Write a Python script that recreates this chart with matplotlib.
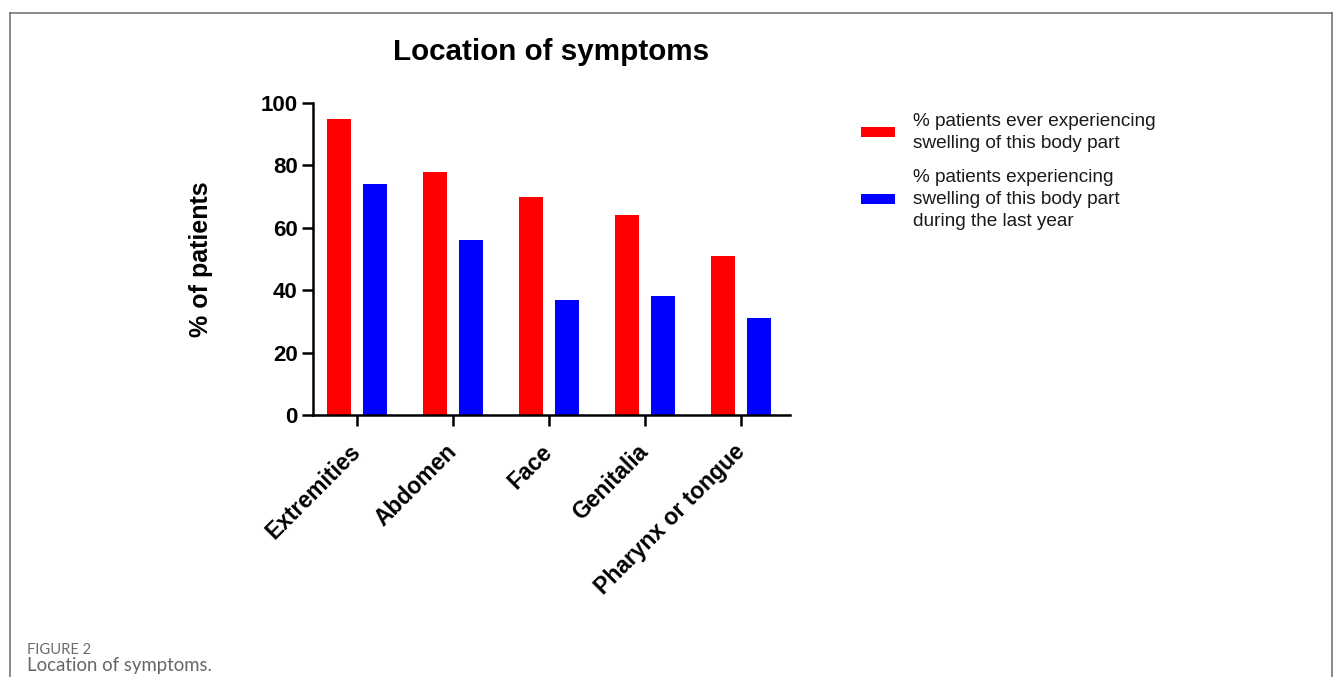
import matplotlib
matplotlib.use("Agg")
import matplotlib.pyplot as plt
import matplotlib.transforms as mtransforms
from matplotlib.lines import Line2D
import numpy as np

# Data
categories = ["Extremities", "Abdomen", "Face", "Genitalia", "Pharynx or tongue"]
ever_pct = [95, 78, 70, 64, 51]
last_year_pct = [74, 56, 37, 38, 31]
label_ever = "% patients ever experiencing\nswelling of this body part"
label_last = "% patients experiencing\nswelling of this body part\nduring the last year"

W, H = 1333, 677
plt.rcParams['font.family'] = ['Liberation Sans', 'DejaVu Sans']

fig = plt.figure(figsize=(W / 100, H / 100), dpi=100)
ax = fig.add_axes([313 / W, 1 - 415 / H, 477 / W, 312 / H])

x = np.arange(len(categories))
bw = 0.25
off = 0.1875
b1 = ax.bar(x - off, ever_pct, bw, color="#ff0000", label=label_ever)
b2 = ax.bar(x + off, last_year_pct, bw, color="#0000ff", label=label_last)

ax.set_ylim(0, 100)
ax.set_xlim(-0.458, 4.51)
ax.set_yticks([0, 20, 40, 60, 80, 100])
ax.set_xticks(x)
ax.set_xticklabels(categories, rotation=45, ha="right", va="center",
                   rotation_mode="anchor", fontsize=16.5, fontweight="bold")
shift = mtransforms.ScaledTranslation(6 / 100, 0, fig.dpi_scale_trans)
for lab in ax.get_xticklabels():
    lab.set_transform(lab.get_transform() + shift)
for lab in ax.get_yticklabels():
    lab.set_fontsize(16)
    lab.set_fontweight("bold")

for s in ["top", "right"]:
    ax.spines[s].set_visible(False)
for s in ["left", "bottom"]:
    ax.spines[s].set_linewidth(1.8)
ax.tick_params(axis="both", length=8, width=1.8, color="black")
ax.tick_params(axis="y", pad=3)
ax.tick_params(axis="x", pad=16)

ax.set_ylabel("% of patients", fontsize=18, fontweight="bold")
ax.yaxis.set_label_coords(-0.21, 0.5)

fig.text(551 / W, 1 - 52 / H, "Location of symptoms", ha="center", va="center",
         fontsize=21.3, fontweight="bold")

leg = fig.legend(handles=[b1, b2], loc="upper left",
                 bbox_to_anchor=(861 / W, 1 - 113 / H), frameon=False,
                 fontsize=13.7, handlelength=1.8, handleheight=0.47,
                 handletextpad=0.95, labelspacing=0.9, borderpad=0,
                 borderaxespad=0)
for t in leg.get_texts():
    t.set_color("#1a1a1a")
    t.set_linespacing(1.38)

# frame around the figure panel
border = "#6b6b6b"
fig.add_artist(Line2D([10 / W, 10 / W], [0, 1 - 13 / H], color=border, lw=1.1,
                      transform=fig.transFigure))
fig.add_artist(Line2D([10 / W, 1332 / W], [1 - 13 / H, 1 - 13 / H], color=border,
                      lw=1.1, transform=fig.transFigure))
fig.add_artist(Line2D([1332 / W, 1332 / W], [0, 1 - 13 / H], color=border, lw=1.1,
                      transform=fig.transFigure))

# caption
fig.text(27 / W, 1 - 650 / H, "FIGURE 2", ha="left", va="center",
         fontsize=10.6, color="#6b6b6b", family=["Lato", "DejaVu Sans"])
fig.text(27 / W, 1 - 666 / H, "Location of symptoms.", ha="left", va="center",
         fontsize=13.4, color="#666666", family=["Lato", "DejaVu Sans"])

fig.savefig("out.png", dpi=100)
